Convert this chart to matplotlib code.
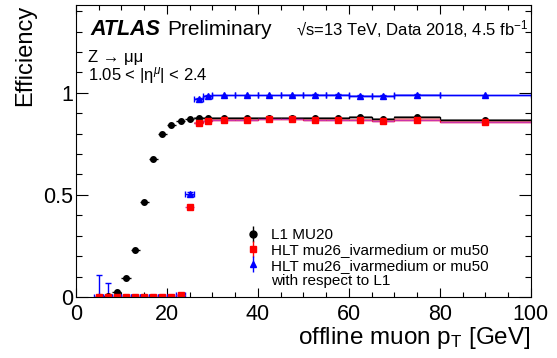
# ATLAS 触发效率图 (L1 MU20 / HLT mu26_ivarmedium or mu50)

import matplotlib
matplotlib.use('Agg')
import matplotlib.pyplot as plt
import numpy as np
from matplotlib.lines import Line2D

plt.rcParams['font.family'] = ['Liberation Sans', 'DejaVu Sans']
plt.rcParams['mathtext.fontset'] = 'custom'
plt.rcParams['mathtext.rm'] = 'Liberation Sans'
plt.rcParams['mathtext.it'] = 'Liberation Sans:italic'

# bin edges of offline muon pT [GeV]
pt_edges = [4, 6, 8, 10, 12, 14, 16, 18, 20, 22, 24, 26, 28, 30,
            35, 40, 45, 50, 55, 60, 65, 70, 80, 100]

# L1 MU20
eff_l1 = [0.0, 0.006, 0.025, 0.093, 0.232, 0.467, 0.676, 0.796, 0.843, 0.864,
          0.871, 0.876, 0.876, 0.877, 0.877, 0.879, 0.879, 0.879, 0.878,
          0.882, 0.873, 0.882, 0.868]
err_l1 = [0.003, 0.004, 0.006, 0.008, 0.008, 0.008, 0.007, 0.006, 0.005, 0.004,
          0.004, 0.003, 0.003, 0.003, 0.003, 0.003, 0.003, 0.004, 0.004,
          0.004, 0.005, 0.005, 0.005]

# HLT mu26_ivarmedium or mu50
eff_hlt = [0.0, 0.0, 0.0, 0.0, 0.0, 0.0, 0.0, 0.0, 0.0, 0.008,
           0.441, 0.851, 0.861, 0.866, 0.866, 0.871, 0.871, 0.869, 0.868,
           0.869, 0.861, 0.869, 0.858]
err_hlt = [0.002, 0.002, 0.002, 0.002, 0.002, 0.002, 0.002, 0.002, 0.002, 0.003,
           0.008, 0.004, 0.004, 0.003, 0.003, 0.003, 0.003, 0.004, 0.004,
           0.004, 0.005, 0.005, 0.005]

# HLT w.r.t. L1
eff_rel = [0.0, 0.0, 0.0, 0.0, 0.0, 0.0, 0.0, 0.0, 0.0, 0.012,
           0.506, 0.972, 0.985, 0.987, 0.987, 0.987, 0.988, 0.990, 0.990,
           0.985, 0.985, 0.990, 0.987]
err_rel_lo = [0.0] * 10 + [0.008, 0.003, 0.002, 0.002, 0.002, 0.002, 0.002, 0.002,
                           0.002, 0.002, 0.003, 0.003, 0.003]
err_rel_hi = [0.11, 0.07, 0.01, 0.005, 0.003, 0.002, 0.002, 0.002, 0.002, 0.004,
              0.008, 0.003, 0.002, 0.002, 0.002, 0.002, 0.002, 0.002, 0.002,
              0.002, 0.003, 0.003, 0.003]

# 平台区 (pT > 26 GeV) 的误差带半宽
band_l1 = [0.004, 0.004, 0.004, 0.004, 0.004, 0.004, 0.004, 0.004, 0.004, 0.004, 0.006, 0.005]
band_hlt = [0.005, 0.005, 0.005, 0.005, 0.005, 0.005, 0.005, 0.005, 0.005, 0.005, 0.006, 0.006]
band_rel = [0.004, 0.004, 0.004, 0.004, 0.004, 0.004, 0.004, 0.004, 0.004, 0.004, 0.004, 0.004]
plateau_start = 11


def draw_eff():
    edges = np.array(pt_edges, dtype=float)
    centers = 0.5 * (edges[1:] + edges[:-1])
    xerr = 0.5 * (edges[1:] - edges[:-1])

    fig = plt.figure(figsize=(5.57, 3.58), dpi=100)
    ax = fig.add_axes([0.1364, 0.1704, 0.8166, 0.8156])

    # 平台区的直方图线和误差带
    pe = edges[plateau_start:]
    for vals, band, col, bcol in [(eff_l1, band_l1, 'black', '#808080'),
                                  (eff_hlt, band_hlt, 'red', '#ff8080'),
                                  (eff_rel, band_rel, 'blue', '#8080ff')]:
        v = np.array(vals[plateau_start:])
        b = np.array(band)
        ax.stairs(v + b, pe, baseline=v - b, fill=True, color=bcol, alpha=0.7, lw=0)
        ax.stairs(v, pe, baseline=None, color=col, lw=1.0)

    ax.errorbar(centers, eff_l1, xerr=xerr, yerr=err_l1, fmt='o', color='black',
                ms=4, elinewidth=1.0, capsize=0)
    ax.errorbar(centers, eff_rel, xerr=xerr, yerr=[err_rel_lo, err_rel_hi], fmt='^',
                color='blue', ms=4.5, elinewidth=1.0, capsize=2)
    h2 = ax.errorbar(centers, eff_hlt, xerr=xerr, yerr=err_hlt, fmt='s', color='red',
                     ms=4.5, elinewidth=1.0, capsize=0)
    h2[2][0].set_color('#cc33aa')

    ax.set_xlim(0, 100)
    ax.set_ylim(0, 1.43)
    ax.set_xticks([0, 20, 40, 60, 80, 100])
    ax.set_xticks(np.arange(0, 101, 5), minor=True)
    ax.set_yticks([0, 0.5, 1])
    ax.set_yticklabels(['0', '0.5', '1'])
    ax.set_yticks(np.arange(0, 1.43, 0.1), minor=True)
    ax.tick_params(axis='both', which='both', direction='in', top=True, right=True,
                   labelsize=15.5, width=0.8)
    ax.tick_params(axis='x', which='major', length=6.5, pad=5)
    ax.tick_params(axis='x', which='minor', length=3.3)
    ax.tick_params(axis='y', which='major', length=8.5, pad=2)
    ax.tick_params(axis='y', which='minor', length=4.3)

    ax.set_xlabel('offline muon p$_{\\mathrm{T}}$ [GeV]', fontsize=17.5, ha='right')
    ax.xaxis.set_label_coords(1.0, -0.096)
    ax.set_ylabel('Efficiency', fontsize=17, loc='top', labelpad=5)

    ax.text(0.031, 0.897, 'ATLAS', transform=ax.transAxes, fontsize=15.5,
            fontweight='bold', fontstyle='italic')
    ax.text(0.2, 0.897, 'Preliminary', transform=ax.transAxes, fontsize=15)
    ax.text(0.995, 0.897, '\u221as=13 TeV, Data 2018, 4.5 fb$^{-1}$', transform=ax.transAxes,
            fontsize=12, ha='right')
    ax.text(0.026, 0.805, 'Z \u2192 \u03bc\u03bc', transform=ax.transAxes, fontsize=12)
    ax.text(0.026, 0.743, '1.05 < |\u03b7$^{\\mu}$| < 2.4', transform=ax.transAxes, fontsize=12)

    # 图例: 标记 + 竖直误差线
    def handle(marker, col, ms):
        return (Line2D([], [], ls='none', marker='|', ms=11, mew=1.0, color=col),
                Line2D([], [], ls='none', marker=marker, ms=ms, color=col))

    blank = Line2D([], [], ls='none', marker='none')
    ax.legend([handle('o', 'black', 5), handle('s', 'red', 5), handle('^', 'blue', 5), blank],
              ['L1 MU20', 'HLT mu26_ivarmedium or mu50',
               'HLT mu26_ivarmedium or mu50', 'with respect to L1'],
              loc='upper left', bbox_to_anchor=(0.355, 0.262), frameon=False,
              fontsize=11, handlelength=1.0, handletextpad=0.7, labelspacing=0.08,
              borderpad=0.0)

    plt.savefig('out.png', dpi=100)


if __name__ == '__main__':
    draw_eff()
